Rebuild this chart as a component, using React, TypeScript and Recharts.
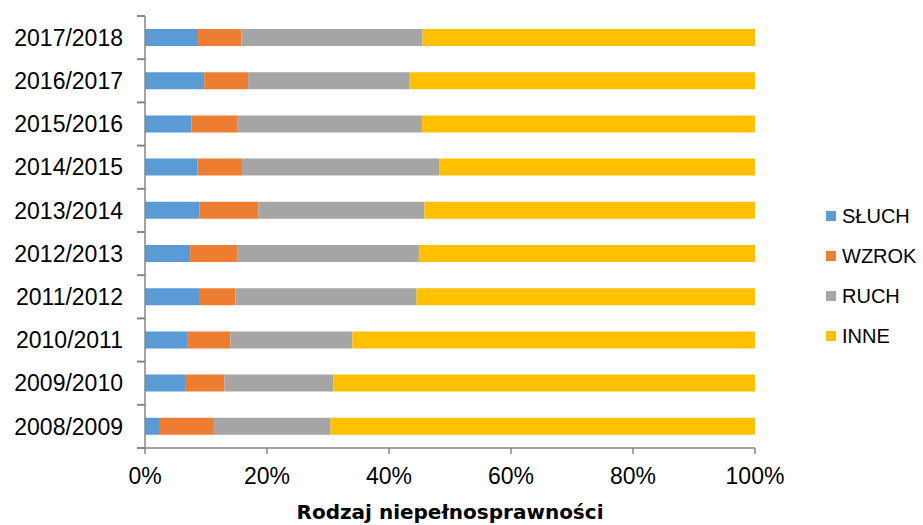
import React from "react";
import { BarChart, Bar, XAxis, YAxis, Legend, Label } from "recharts";

const years = [
  "2017/2018",
  "2016/2017",
  "2015/2016",
  "2014/2015",
  "2013/2014",
  "2012/2013",
  "2011/2012",
  "2010/2011",
  "2009/2010",
  "2008/2009",
];

// shares in % per school year
const sluch = [8.7, 9.7, 7.6, 8.6, 8.9, 7.4, 9.0, 6.9, 6.7, 2.3];
const wzrok = [7.1, 7.2, 7.5, 7.3, 9.7, 7.8, 5.8, 7.1, 6.3, 9.0];
const ruch = [29.7, 26.5, 30.3, 32.4, 27.2, 29.7, 29.7, 20.0, 17.9, 19.1];
const inne = [54.5, 56.6, 54.6, 51.7, 54.2, 55.1, 55.5, 66.0, 69.1, 69.6];

const xTicks = [0, 0.2, 0.4, 0.6, 0.8, 1];

const series = [
  { key: "SŁUCH", color: "#5B9BD5" },
  { key: "WZROK", color: "#ED7D31" },
  { key: "RUCH", color: "#A5A5A5" },
  { key: "INNE", color: "#FFC000" },
];

const data = years.map((year, i) => ({
  year,
  "SŁUCH": sluch[i],
  WZROK: wzrok[i],
  RUCH: ruch[i],
  INNE: inne[i],
}));

const axisColor = "#868686";
const font = "'Liberation Sans', Arial, sans-serif";
const TICK_LEN = 8;
const TICK_GAP = 14;

// category label + excel-style tick marks between the categories
const YearTick = (props: any) => {
  const { payload, index, visibleTicksCount } = props;
  const x = Number(props.x);
  const y = Number(props.y);
  let half = Number(payload?.offset);
  if (!(half > 0 && half < 60)) {
    half = Number(props.height) / (visibleTicksCount || years.length) / 2;
  }
  if (!(half > 0)) half = 0;
  const x1 = x + TICK_GAP;
  return (
    <g>
      <text
        x={x}
        y={y}
        dy="0.355em"
        textAnchor="end"
        fill="#000"
        fontSize={23}
        fontFamily={font}
      >
        {payload.value}
      </text>
      <rect x={x1} y={y - half - 1} width={TICK_LEN} height={2} fill={axisColor} />
      {index === visibleTicksCount - 1 && (
        <rect x={x1} y={y + half - 1} width={TICK_LEN} height={2} fill={axisColor} />
      )}
    </g>
  );
};

const renderLegend = () => (
  <div style={{ fontFamily: font, fontSize: 20, color: "#000" }}>
    {series.map((s) => (
      <div key={s.key} style={{ display: "flex", alignItems: "center", height: 40 }}>
        <span
          style={{
            display: "inline-block",
            width: 10,
            height: 10,
            background: s.color,
            marginRight: 6,
          }}
        />
        {s.key}
      </div>
    ))}
  </div>
);

export default function App() {
  return (
    <div style={{ position: "absolute", left: 0, top: 0, background: "#fff" }}>
      <BarChart
        width={923}
        height={525}
        data={data}
        layout="vertical"
        stackOffset="expand"
        margin={{ top: 16, right: 168, left: 0, bottom: 0 }}
      >
        <YAxis
          type="category"
          dataKey="year"
          width={145}
          tickLine={false}
          tickSize={TICK_LEN}
          tickMargin={TICK_GAP}
          axisLine={{ stroke: axisColor, strokeWidth: 1.5 }}
          tick={YearTick}
        />
        <XAxis
          type="number"
          domain={[0, 1]}
          ticks={xTicks}
          height={77}
          tickSize={6}
          tickMargin={14}
          tickFormatter={(v: number) => `${Math.round(v * 100)}%`}
          axisLine={{ stroke: axisColor, strokeWidth: 1.5 }}
          tickLine={{ stroke: axisColor, strokeWidth: 1.5 }}
          tick={{ fill: "#000", fontSize: 23, fontFamily: font }}
        >
          <Label
            value="Rodzaj niepełnosprawności"
            position="insideBottom"
            offset={6}
            style={{
              fontFamily: "'DejaVu Sans', sans-serif",
              fontWeight: "bold",
              fontSize: 20,
              fill: "#000",
            }}
          />
        </XAxis>
        <Legend
          layout="vertical"
          align="center"
          verticalAlign="middle"
          content={renderLegend}
          wrapperStyle={{ left: 826, top: 196, width: 100 }}
        />
        {series.map((s) => (
          <Bar
            key={s.key}
            dataKey={s.key}
            stackId="a"
            fill={s.color}
            barSize={17}
            isAnimationActive={false}
          />
        ))}
      </BarChart>
    </div>
  );
}
